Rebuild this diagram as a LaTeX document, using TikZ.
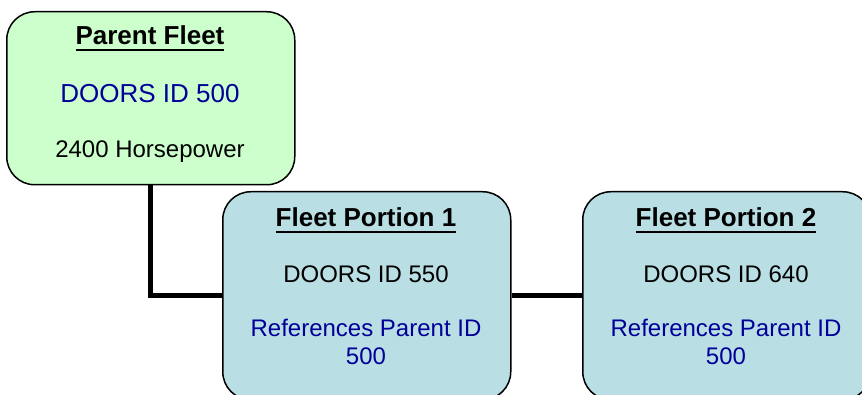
\documentclass[tikz,border=0pt]{standalone}
\usepackage{fontspec}
\setmainfont{Liberation Sans}
\definecolor{parentgreen}{HTML}{CCFFCC}
\definecolor{portionblue}{HTML}{B9DFE4}
\definecolor{idblue}{HTML}{000099}
% underline drawn as a thick rule
\newcommand\titleline[1]{\setbox0\hbox{#1}\rlap{\rule[-6pt]{\wd0}{2pt}}\box0}
\tikzset{
  fleetbox/.style={draw=black, line width=1.5pt, rounded corners=28pt, anchor=north west, inner sep=0pt},
  titletext/.style={anchor=base, inner sep=0pt, font=\fontsize{26pt}{28pt}\selectfont\bfseries},
  bodytext/.style={anchor=base, inner sep=0pt, font=\fontsize{24pt}{27pt}\selectfont},
  link/.style={line width=5pt}
}
\begin{document}
\begin{tikzpicture}[x=1pt, y=-1pt]
  \useasboundingbox (0,0) rectangle (862,395);
  \clip (0,0) rectangle (862,395);

  % Drawing box Parent Fleet
  \node [fleetbox, fill=parentgreen, minimum width=288pt, minimum height=173pt] (parent) at (6,11) {};
  \node [titletext] (parenttitle) at (150,45) {\titleline{Parent Fleet}};
  \node [bodytext, text=idblue, font=\fontsize{26pt}{28pt}\selectfont] (parentid) at (150,103) {DOORS ID 500};
  \node [bodytext] (parenthp) at (150,158) {2400 Horsepower};

  % Drawing box Fleet Portion 1
  \node [fleetbox, fill=portionblue, minimum width=288pt, minimum height=208pt] (portion1) at (222,191) {};
  \node [titletext] (portion1title) at (366,227) {\titleline{Fleet Portion 1}};
  \node [bodytext] (portion1id) at (366,283) {DOORS ID 550};
  \node [bodytext, text=idblue] (portion1ref) at (366,337) {References Parent ID};
  \node [bodytext, text=idblue] (portion1refid) at (366,364) {500};

  % Drawing box Fleet Portion 2
  \node [fleetbox, fill=portionblue, minimum width=288pt, minimum height=208pt] (portion2) at (582,191) {};
  \node [titletext] (portion2title) at (726,227) {\titleline{Fleet Portion 2}};
  \node [bodytext] (portion2id) at (726,283) {DOORS ID 640};
  \node [bodytext, text=idblue] (portion2ref) at (726,337) {References Parent ID};
  \node [bodytext, text=idblue] (portion2refid) at (726,364) {500};

  % Drawing connectors
  \draw [link] (parent.south) |- (portion1.west);
  \draw [link] (portion1.east) -- (portion2.west);
\end{tikzpicture}
\end{document}
